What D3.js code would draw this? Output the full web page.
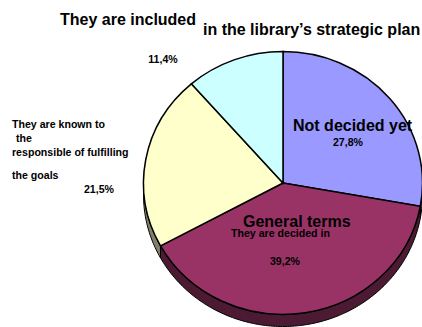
<!DOCTYPE html>
<html>
<head>
<meta charset="utf-8">
<style>
  html, body { margin: 0; padding: 0; background: #fff; }
  svg { display: block; }
  text { font-family: "Liberation Sans", Arial, sans-serif; font-weight: bold; fill: #000; }
</style>
<script src="https://cdn.jsdelivr.net/npm/d3@7/dist/d3.min.js"></script>
</head>
<body>
<svg id="chart" width="422" height="327"></svg>
<script>
// Share of libraries by how their goals are set, clockwise from twelve o'clock
const categories = ["Not decided yet", "General terms", "They are known", "They are included"];
const shares = [27.8, 39.2, 21.5, 11.4];
const faceColors = ["#9999ff", "#993366", "#ffffcc", "#ccffff"];
const wallColors = ["#4d4d80", "#4d1a33", "#80806a", "#668080"];

// Free-standing labels: text, anchor point, size
const labelText = ["They are included", "in the library\u2019s strategic plan", "Not decided yet", "General terms",
  "They are decided in", "They are known to", "the", "responsible of fulfilling", "the goals"];
const labelX = [60, 203, 293, 243, 231, 12, 16, 12, 12];
const labelY = [25, 35, 131, 227, 237, 127.5, 141.5, 156, 179];
const labelSize = [16, 16, 16, 16, 10.6, 10.6, 10.6, 10.6, 10.6];
const valueText = ["27,8%", "39,2%", "21,5%", "11,4%"];
const valueX = [348, 285, 99, 163];
const valueY = [146, 265, 193, 63];

const cx = 283, cy = 183, rx = 139.5, ry = 131.5, depth = 12;
const svg = d3.select("#chart");

const slices = d3.pie().sort(null).value(d => d)(shares);
const scaleX = d3.scaleLinear().domain([-1, 1]).range([cx - rx, cx + rx]);
const scaleY = d3.scaleLinear().domain([-1, 1]).range([cy - ry, cy + ry]);
const rim = a => [scaleX(Math.sin(a)), scaleY(-Math.cos(a))];

// Side wall: the lower half of the rim, extruded downward, clipped to each slice's arc
const step = Math.PI / 180;
slices.forEach((s, i) => {
  const from = Math.max(s.startAngle, Math.PI / 2);
  const to = Math.min(s.endAngle, 3 * Math.PI / 2);
  if (to <= from) return;
  const angles = d3.range(from, to, step).concat(to);
  const top = angles.map(rim);
  const bottom = top.map(p => [p[0], p[1] + depth]).reverse();
  svg.append("path")
    .attr("d", d3.line()(top.concat(bottom)) + "Z")
    .attr("fill", wallColors[i])
    .attr("stroke", "#000")
    .attr("stroke-width", 1);
});

// Top face of the pie
const unitArc = d3.arc().innerRadius(0).outerRadius(1);
svg.append("g")
  .attr("transform", `translate(${cx},${cy}) scale(${rx},${ry})`)
  .selectAll("path")
  .data(slices)
  .join("path")
  .attr("d", unitArc)
  .attr("fill", (d, i) => faceColors[i])
  .attr("stroke", "#000")
  .attr("stroke-width", 1.5)
  .attr("vector-effect", "non-scaling-stroke");

svg.append("g").selectAll("text")
  .data(labelText)
  .join("text")
  .attr("x", (d, i) => labelX[i])
  .attr("y", (d, i) => labelY[i])
  .attr("font-size", (d, i) => labelSize[i])
  .text(d => d);

svg.append("g").selectAll("text")
  .data(valueText)
  .join("text")
  .attr("x", (d, i) => valueX[i])
  .attr("y", (d, i) => valueY[i])
  .attr("text-anchor", "middle")
  .attr("font-size", 10.6)
  .text(d => d);
</script>
</body>
</html>
